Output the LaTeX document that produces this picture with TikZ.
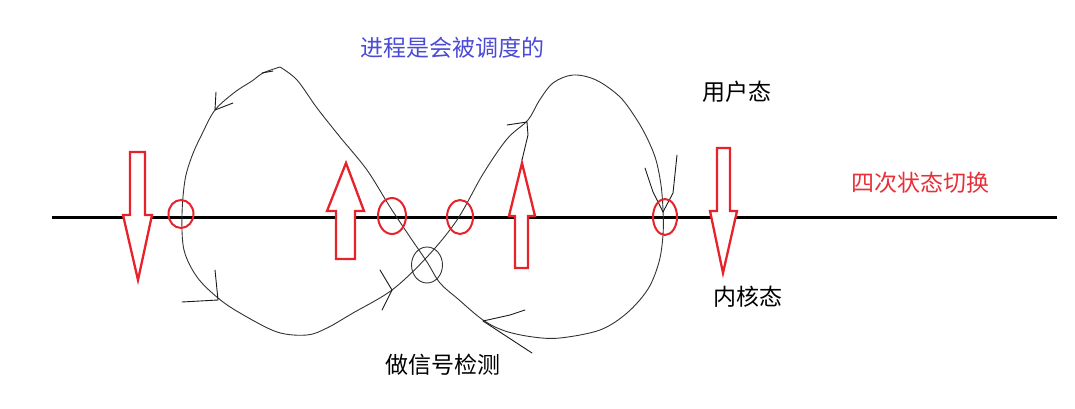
\documentclass[tikz,border=0pt]{standalone}
\usepackage{fontspec}
\newfontfamily\cjk{Noto Sans CJK SC}
\usetikzlibrary{shapes.geometric}
\definecolor{arrred}{HTML}{E8222B}
\definecolor{txtblue}{HTML}{4B4BD6}
\definecolor{txtred}{HTML}{E8303A}
\begin{document}
\begin{tikzpicture}[x=1pt,y=-1pt,
  lbl/.style={font=\cjk\fontsize{23}{26}\selectfont, inner sep=0pt},
  bigarrow/.style={draw=arrred, line width=2.3pt, line join=miter, fill=white},
  redmark/.style={draw=arrred, line width=2pt, ellipse, inner sep=0pt},
  pathline/.style={draw=black!80, line width=0.9pt, line cap=round, line join=round},
  barb/.style={draw=black!90, line width=0.9pt, line cap=round}]
\useasboundingbox (0,0) rectangle (1075,409);
% axis
\coordinate (axL) at (52,217);
\coordinate (axR) at (1057,217);
\draw[line width=3pt] (axL) -- (axR);
% figure-eight path
\draw[pathline] plot[smooth, tension=0.55] coordinates {
 (280,67) (297,80) (317,108) (340,137) (367,170) (390,207) (410,237) (427,262)
 (440,283) (458,299) (483,320) (505,331) (533,337) (560,338) (600,330) (627,313)
 (648,289) (659,262) (663,235) (663,210) (661,185) (656,160) (648,140) (637,120)
 (620,97) (596,80) (573,75) (553,83) (539,101) (528,120) (507,139) (483,174)
 (457,220) (427,257) (392,290) (353,313) (327,328) (307,335) (277,332) (240,313)
 (218,298) (197,277) (184,250) (182,215) (185,180) (192,156) (202,134) (215,110)
 (235,92) (252,81) (263,73) (280,67)};
% direction marks
\coordinate (t1) at (215,110);
\draw[barb] (t1) -- (216,92); \draw[barb] (t1) -- (233,103);
\coordinate (t0) at (262,73);
\draw[barb] (t0) -- (273,71);
\coordinate (t2) at (218,300);
\draw[barb] (t2) -- (215,270); \draw[barb] (t2) -- (182,302);
\coordinate (t3) at (392,290);
\draw[barb] (t3) -- (380,270); \draw[barb] (t3) -- (382,310);
\coordinate (t4) at (527,122);
\draw[barb] (t4) -- (507,125); \draw[barb] (t4) -- (528,135) -- (522,160);
\coordinate (t5) at (663,212);
\draw[barb] (t5) -- (653,192) -- (645,168); \draw[barb] (t5) -- (673,193) -- (677,155);
\coordinate (t6) at (483,321);
\draw[barb] (t6) -- (510,315) -- (525,310); \draw[barb] (t6) -- (532,353);
% signal detection circle
\node[draw=black!80, line width=0.9pt, ellipse, minimum width=31, minimum height=36, inner sep=0pt] (det) at (427,265) {};
% red ellipse marks
\node[redmark, minimum width=25, minimum height=28] (m1) at (181,214) {};
\node[redmark, minimum width=28, minimum height=36] (m2) at (392,216) {};
\node[redmark, minimum width=26, minimum height=34] (m3) at (460,217) {};
\node[redmark, minimum width=24, minimum height=36] (m4) at (665,217) {};
% red block arrows
\draw[bigarrow] (130,152) -- (145,152) -- (145,215) -- (152,215) -- (138,280) -- (123,215) -- (130,215) -- cycle;
\draw[bigarrow] (346,163) -- (364,211) -- (355,211) -- (355,259) -- (336,259) -- (336,211) -- (327,211) -- cycle;
\draw[bigarrow] (522,163) -- (535,216) -- (528,216) -- (528,268) -- (515,268) -- (515,216) -- (509,216) -- cycle;
\draw[bigarrow] (717,148) -- (730,148) -- (730,211) -- (737,211) -- (723,273) -- (710,211) -- (717,211) -- cycle;
% labels
\node[lbl, text=txtblue] (sched) at (452,48) {进程是会被调度的};
\node[lbl] (user) at (737,92) {用户态};
\node[lbl, text=txtred] (four) at (920,183) {四次状态切换};
\node[lbl] (kern) at (748,297) {内核态};
\node[lbl] (sig) at (443,365) {做信号检测};
\end{tikzpicture}
\end{document}
